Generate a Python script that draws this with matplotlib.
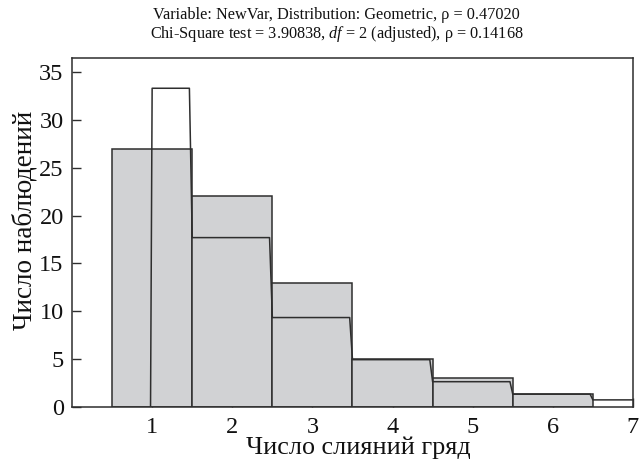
import numpy as np
import matplotlib
matplotlib.use("Agg")
import matplotlib.pyplot as plt

plt.rcParams['font.family'] = ['Liberation Serif', 'DejaVu Serif']
plt.rcParams['mathtext.fontset'] = 'custom'
plt.rcParams['mathtext.rm'] = 'Liberation Serif'
plt.rcParams['mathtext.it'] = 'Liberation Serif:italic'

# observed frequencies per category (bars)
categories = [1, 2, 3, 4, 5, 6]
observed = [27, 22, 13, 5, 3, 1.4]
# expected geometric frequencies (step line), last one for 7
expected = [33.3, 17.7, 9.35, 4.95, 2.65, 1.35, 0.75]

title1 = "Variable: NewVar, Distribution: Geometric, ρ = 0.47020"
title2 = "Chi-Square test = 3.90838, $\\mathit{df}$ = 2 (adjusted), ρ = 0.14168"

edge = "#2e2e2e"
fill = "#d1d2d4"

fig = plt.figure(figsize=(6.4, 4.61), dpi=100)
ax = fig.add_axes([0.1125, 0.117, 0.8765, 0.758])

ax.bar(categories, observed, width=1.0, color=fill, edgecolor=edge, linewidth=1.1, zorder=2)

# expected step line, starts at the first category, small slant at each drop
slant = 0.035
cats = np.array(categories + [7])
lefts = np.concatenate([[cats[0]], cats[1:] - 0.5])
rights = np.concatenate([cats[1:] - 0.5 - slant, [cats[-1]]])
xs = [cats[0] - 0.02]
ys = [0]
for l, r, e in zip(lefts, rights, expected):
    xs += [l, r]
    ys += [e, e]
ax.plot(xs, ys, color=edge, linewidth=1.1, zorder=3)

ax.set_xlim(0, 7)
ax.set_ylim(0, 36.5)
ax.set_xticks(range(1, 8))
ax.set_yticks(range(0, 36, 5))
ax.tick_params(direction="in", length=6.5, width=1.0, color=edge, labelsize=17.5, labelcolor="#111111")
ax.tick_params(axis="y", pad=6)
ax.tick_params(axis="x", pad=7)
for s in ax.spines.values():
    s.set_color(edge)
    s.set_linewidth(1.1)

ax.set_xlabel("Число слияний гряд", fontsize=18.8, color="#111111")
ax.set_ylabel("Число наблюдений", fontsize=19.5, color="#111111")
ax.xaxis.set_label_coords(0.51, -0.085)
ax.yaxis.set_label_coords(-0.062, 0.534)

fig.text(0.526, 0.967, title1, ha="center", va="center", fontsize=11.7, color="#111111")
fig.text(0.526, 0.927, title2, ha="center", va="center", fontsize=11.7, color="#111111")

fig.savefig("out.png", dpi=100)
